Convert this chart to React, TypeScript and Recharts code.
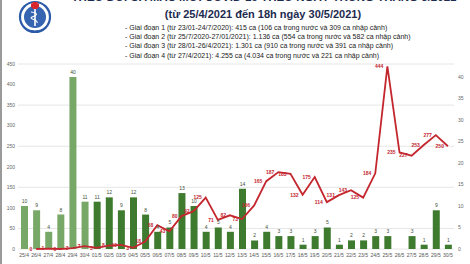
import React from 'react';
import { ComposedChart, Bar, Line, XAxis, YAxis, CartesianGrid, Cell, LabelList } from 'recharts';

// categories: one per day
const days = [
  '25/4', '26/4', '27/4', '28/4', '29/4', '30/4', '01/5', '02/5', '03/5', '04/5', '05/5', '06/5',
  '07/5', '08/5', '09/5', '10/5', '11/5', '12/5', '13/5', '14/5', '15/5', '16/5', '17/5', '18/5',
  '19/5', '20/5', '21/5', '22/5', '23/5', '24/5', '25/5', '26/5', '27/5', '28/5', '29/5', '30/5',
];

// imported cases (bars, right axis)
const importedCases = [
  10, 9, 4, 8, 40, 11, 11, 12, 9, 12, 8, 4,
  5, 13, 10, 4, 5, 4, 14, 2, 4, 3, 3, 1,
  3, 5, 1, 2, 2, 3, 3, 0, 3, 1, 9, 1,
];

// domestic cases (line, left axis)
const domesticCases = [
  null, 0, 1, 0, 2, 7, 3, 8, 10, 3, 18, 58,
  43, 80, 92, 125, 71, 82, 73, 106, 165, 187, 183, 132,
  175, 114, 131, 143, 125, 184, 444, 235, 227, 253, 277, 250,
];

const leftTicks = [0, 50, 100, 150, 200, 250, 300, 350, 400, 450];
const rightTicks = [0, 5, 10, 15, 20, 25, 30, 35, 40];

const stageLines = [
  '- Giai đoạn 1 (từ 23/01-24/7/2020): 415 ca (106 ca trong nước và 309 ca nhập cảnh)',
  '- Giai đoạn 2 (từ 25/7/2020-27/01/2021): 1.136 ca (554 ca trong nước và 582 ca nhập cảnh)',
  '- Giai đoạn 3 (từ 28/01-26/4/2021): 1.301 ca (910 ca trong nước và 391 ca nhập cảnh)',
  '- Giai đoạn 4 (từ 27/4/2021): 4.255 ca (4.034 ca trong nước và 221 ca nhập cảnh)',
];

const chartData = days.map((d, i) => ({
  day: d,
  imported: importedCases[i],
  domestic: domesticCases[i],
}));

const font = '"Liberation Sans", Arial, sans-serif';

const Logo = () => (
  <svg width={34} height={36} viewBox="0 0 34 36" style={{ position: 'absolute', left: 18, top: 0 }}>
    <circle cx={17} cy={17} r={15} fill="#fff" stroke="#2b5ba8" strokeWidth={2.2} />
    <circle cx={17} cy={17} r={11} fill="#3564b0" />
    <rect x={14.5} y={2} width={5} height={7} fill="#d8262c" />
    <rect x={13} y={3.5} width={8} height={4} fill="#d8262c" />
    <rect x={16.2} y={9} width={1.6} height={17} fill="#fff" />
    <path d="M13 12 C20 13,20 15,14 17 C10 19,21 20,19 23" stroke="#fff" strokeWidth={1.1} fill="none" />
    <path d="M6 28 Q17 34 28 28" stroke="#2b5ba8" strokeWidth={1} fill="none" />
  </svg>
);

export default function App() {
  return (
    <div style={{ position: 'fixed', left: 0, top: 0, width: 470, height: 264, background: '#fff', overflow: 'hidden', fontFamily: font }}>
      <div style={{ position: 'absolute', left: 0, top: 0, width: 2, height: 264, background: '#9a9a9a' }} />
      <Logo />
      <div style={{ position: 'absolute', left: 0, width: 528, top: -9, textAlign: 'center', fontSize: 11.5, fontWeight: 700, color: '#1d2b4f', whiteSpace: 'nowrap' }}>
        THEO DÕI CA MẮC MỚI COVID-19 THEO NGÀY TRONG THÁNG 5/2021
      </div>
      <div style={{ position: 'absolute', left: 0, width: 526, top: 8, textAlign: 'center', fontSize: 11, fontWeight: 700, color: '#1d2b4f', whiteSpace: 'nowrap' }}>
        (từ 25/4/2021 đến 18h ngày 30/5/2021)
      </div>
      {stageLines.map((t, i) => (
        <div key={i} style={{ position: 'absolute', left: 125, top: 22.5 + i * 9.4, fontSize: 7, color: '#222', whiteSpace: 'nowrap', lineHeight: '9px' }}>
          {t}
        </div>
      ))}
      <div style={{ position: 'absolute', left: 0, top: 0 }}>
        <ComposedChart width={470} height={264} data={chartData} margin={{ top: 64, right: 0, bottom: 0, left: 0 }}>
          <CartesianGrid yAxisId="left" vertical={false} stroke="#e6e6e6" />
          <XAxis
            dataKey="day"
            interval={0}
            height={15}
            tickLine={false}
            axisLine={false}
            tickSize={0}
            tickMargin={4}
            tick={{ fontSize: 5, fill: '#555', fontFamily: font }}
          />
          <YAxis
            yAxisId="left"
            orientation="left"
            width={18}
            domain={[0, 450]}
            ticks={leftTicks}
            tickLine={false}
            axisLine={false}
            tickSize={0}
            tickMargin={3}
            tick={{ fontSize: 5, fill: '#666', fontFamily: font }}
          />
          <YAxis
            yAxisId="right"
            orientation="right"
            width={16}
            domain={[0, 43]}
            ticks={rightTicks}
            tickLine={false}
            axisLine={false}
            tickSize={0}
            tickMargin={4}
            tick={{ fontSize: 5, fill: '#666', fontFamily: font }}
          />
          <Bar yAxisId="right" dataKey="imported" barSize={7} isAnimationActive={false}>
            {chartData.map((_, i) => (
              <Cell key={i} fill={i < 6 ? '#78a868' : '#3f7b2f'} />
            ))}
            <LabelList
              dataKey="imported"
              position="top"
              offset={3}
              formatter={(v: any) => (v ? v : '')}
              style={{ fontSize: 5, fill: '#44503a', fontFamily: font }}
            />
          </Bar>
          <Line
            yAxisId="left"
            dataKey="domestic"
            type="linear"
            stroke="#c4262e"
            strokeWidth={1.8}
            dot={false}
            isAnimationActive={false}
          >
            <LabelList
              dataKey="domestic"
              position="left"
              offset={4}
              style={{ fontSize: 5, fill: '#c4262e', fontWeight: 700, fontFamily: font }}
            />
          </Line>
        </ComposedChart>
      </div>
    </div>
  );
}
